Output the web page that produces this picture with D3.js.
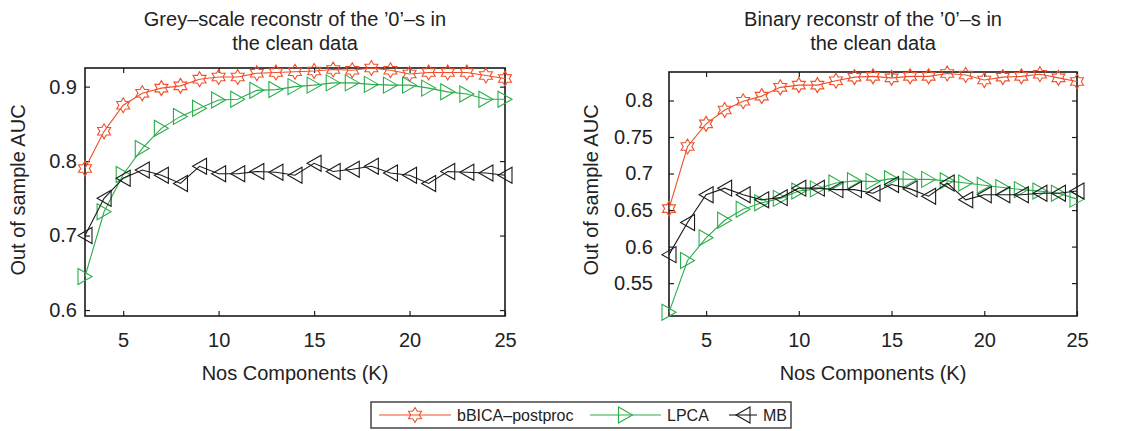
<!DOCTYPE html>
<html>
<head>
<meta charset="utf-8">
<script src="https://cdn.jsdelivr.net/npm/d3@7"></script>
<style>
  body { margin: 0; background: #fff; }
  text { font-family: "Liberation Sans", Arial, sans-serif; fill: #222; }
</style>
</head>
<body>
<div id="chart"></div>
<script>
// number of components
var K = [3, 4, 5, 6, 7, 8, 9, 10, 11, 12, 13, 14, 15, 16, 17, 18, 19, 20, 21, 22, 23, 24, 25];

// grey-scale panel
var greyBBICA = [0.790, 0.840, 0.875, 0.891, 0.898, 0.901, 0.910, 0.913, 0.913, 0.918, 0.919, 0.920, 0.921, 0.923, 0.922, 0.925, 0.922, 0.917, 0.919, 0.919, 0.919, 0.915, 0.911];
var greyLPCA  = [0.645, 0.732, 0.782, 0.817, 0.844, 0.860, 0.871, 0.882, 0.883, 0.895, 0.896, 0.900, 0.902, 0.905, 0.905, 0.903, 0.902, 0.902, 0.898, 0.893, 0.890, 0.883, 0.883];
var greyMB    = [0.700, 0.750, 0.777, 0.788, 0.781, 0.770, 0.793, 0.783, 0.783, 0.786, 0.785, 0.781, 0.797, 0.786, 0.789, 0.793, 0.784, 0.781, 0.770, 0.786, 0.785, 0.784, 0.781];

// binary panel
var binBBICA = [0.652, 0.737, 0.768, 0.787, 0.799, 0.806, 0.818, 0.821, 0.821, 0.827, 0.832, 0.833, 0.831, 0.833, 0.833, 0.837, 0.835, 0.828, 0.832, 0.833, 0.836, 0.831, 0.826];
var binLPCA  = [0.510, 0.581, 0.612, 0.636, 0.651, 0.660, 0.666, 0.676, 0.679, 0.687, 0.690, 0.689, 0.693, 0.692, 0.692, 0.690, 0.687, 0.684, 0.681, 0.678, 0.676, 0.673, 0.665];
var binMB    = [0.589, 0.633, 0.671, 0.680, 0.671, 0.664, 0.667, 0.680, 0.680, 0.678, 0.678, 0.673, 0.685, 0.679, 0.669, 0.687, 0.664, 0.671, 0.671, 0.671, 0.673, 0.673, 0.676];

var xTicks = [5, 10, 15, 20, 25];
var greyYTicks = [0.6, 0.7, 0.8, 0.9];
var binYTicks = [0.55, 0.6, 0.65, 0.7, 0.75, 0.8];

var seriesNames = ["bBICA\u2013postproc", "LPCA", "MB"];
var colors = ["#f0502a", "#2aae4a", "#1a1a1a"];

var svg = d3.select("#chart").append("svg")
  .attr("width", 1132)
  .attr("height", 431);
svg.append("rect").attr("width", 1132).attr("height", 431).attr("fill", "#fff");

// marker shapes
function starPath(ro) {
  var ri = ro * 0.58, pts = [];
  for (var i = 0; i < 12; i++) {
    var a = -Math.PI / 2 + i * Math.PI / 6;
    var r = (i % 2 == 0) ? ro : ri;
    pts.push([r * Math.cos(a), r * Math.sin(a)]);
  }
  return "M" + pts.join("L") + "Z";
}
function triRight(w, h) { return "M" + (-w/2) + "," + (-h/2) + "L" + (w/2) + ",0L" + (-w/2) + "," + (h/2) + "Z"; }
function triLeft(w, h)  { return "M" + (w/2) + "," + (-h/2) + "L" + (-w/2) + ",0L" + (w/2) + "," + (h/2) + "Z"; }
var markers = [starPath(7.5), triRight(14, 16), triLeft(14, 16)];

function drawPanel(p) {
  var x = d3.scaleLinear().domain([3, 25]).range([p.left, p.right]);
  var y = d3.scaleLinear().domain(p.ydom).range([p.bottom, p.top]);
  var g = svg.append("g");

  // axes with inward ticks
  g.append("g").attr("transform", "translate(0," + p.bottom + ")")
    .call(d3.axisBottom(x).tickValues(xTicks).tickSize(-5).tickSizeOuter(0).tickPadding(17))
    .call(a => a.select(".domain").remove());
  g.append("g").attr("transform", "translate(0," + p.top + ")")
    .call(d3.axisTop(x).tickValues(xTicks).tickSize(-5).tickSizeOuter(0).tickFormat(""))
    .call(a => a.select(".domain").remove());
  g.append("g").attr("transform", "translate(" + p.left + ",0)")
    .call(d3.axisLeft(y).tickValues(p.yticks).tickSize(-5).tickSizeOuter(0).tickPadding(p.ypad).tickFormat(d3.format("")))
    .call(a => a.select(".domain").remove());
  g.append("g").attr("transform", "translate(" + p.right + ",0)")
    .call(d3.axisRight(y).tickValues(p.yticks).tickSize(-5).tickSizeOuter(0).tickFormat(""))
    .call(a => a.select(".domain").remove());
  g.selectAll(".tick line").attr("stroke", "#222").attr("stroke-width", 1.2);
  g.selectAll(".tick text").attr("font-size", 20).attr("font-family", "Liberation Sans, Arial, sans-serif").attr("fill", "#222");

  g.append("rect")
    .attr("x", p.left).attr("y", p.top)
    .attr("width", p.right - p.left).attr("height", p.bottom - p.top)
    .attr("fill", "none").attr("stroke", "#1a1a1a").attr("stroke-width", 1.6);

  // series
  var line = d3.line().x((d, i) => x(K[i])).y(d => y(d));
  p.series.forEach(function (s, si) {
    g.append("path").datum(s)
      .attr("d", line)
      .attr("fill", "none")
      .attr("stroke", colors[si])
      .attr("stroke-width", 1.1);
    g.selectAll(null).data(s).enter().append("path")
      .attr("transform", (d, i) => "translate(" + x(K[i]) + "," + y(d) + ")")
      .attr("d", markers[si])
      .attr("fill", "none")
      .attr("stroke", colors[si])
      .attr("stroke-width", 1.1);
  });

  // title, labels
  var cx = (p.left + p.right) / 2;
  g.append("text").attr("x", cx).attr("y", 26).attr("text-anchor", "middle").attr("font-size", 20).text(p.title[0]);
  g.append("text").attr("x", cx).attr("y", 50).attr("text-anchor", "middle").attr("font-size", 20).text(p.title[1]);
  g.append("text").attr("x", cx).attr("y", 380).attr("text-anchor", "middle").attr("font-size", 20).text("Nos Components (K)");
  g.append("text")
    .attr("transform", "translate(" + p.ylabX + "," + 190 + ") rotate(-90)")
    .attr("text-anchor", "middle").attr("font-size", 20)
    .text("Out of sample AUC");
}

drawPanel({
  left: 85, right: 505, top: 68, bottom: 316,
  ydom: [0.592, 0.925], yticks: greyYTicks, ypad: 8, ylabX: 25,
  title: ["Grey\u2013scale reconstr of the \u20190\u2019\u2013s in", "the clean data"],
  series: [greyBBICA, greyLPCA, greyMB]
});
drawPanel({
  left: 669, right: 1077, top: 72, bottom: 316,
  ydom: [0.505, 0.839], yticks: binYTicks, ypad: 16, ylabX: 598,
  title: ["Binary reconstr of the \u20190\u2019\u2013s in", "the clean data"],
  series: [binBBICA, binLPCA, binMB]
});

// legend
var leg = svg.append("g");
leg.append("rect").attr("x", 371).attr("y", 402).attr("width", 420).attr("height", 26)
  .attr("fill", "#fff").attr("stroke", "#444").attr("stroke-width", 1.5);
var legItems = [
  { x0: 379, x1: 451, text: 469 - 12 },
  { x0: 590, x1: 661, text: 667 },
  { x0: 729, x1: 757, text: 763 }
];
legItems.forEach(function (it, i) {
  var my = 415;
  leg.append("line").attr("x1", it.x0).attr("x2", it.x1).attr("y1", my).attr("y2", my)
    .attr("stroke", colors[i]).attr("stroke-width", 1.1);
  leg.append("path").attr("transform", "translate(" + ((it.x0 + it.x1) / 2) + "," + my + ")")
    .attr("d", markers[i]).attr("fill", "none").attr("stroke", colors[i]).attr("stroke-width", 1.1);
  leg.append("text").attr("x", it.text).attr("y", 421).attr("font-size", 16).text(seriesNames[i]);
});
</script>
</body>
</html>
